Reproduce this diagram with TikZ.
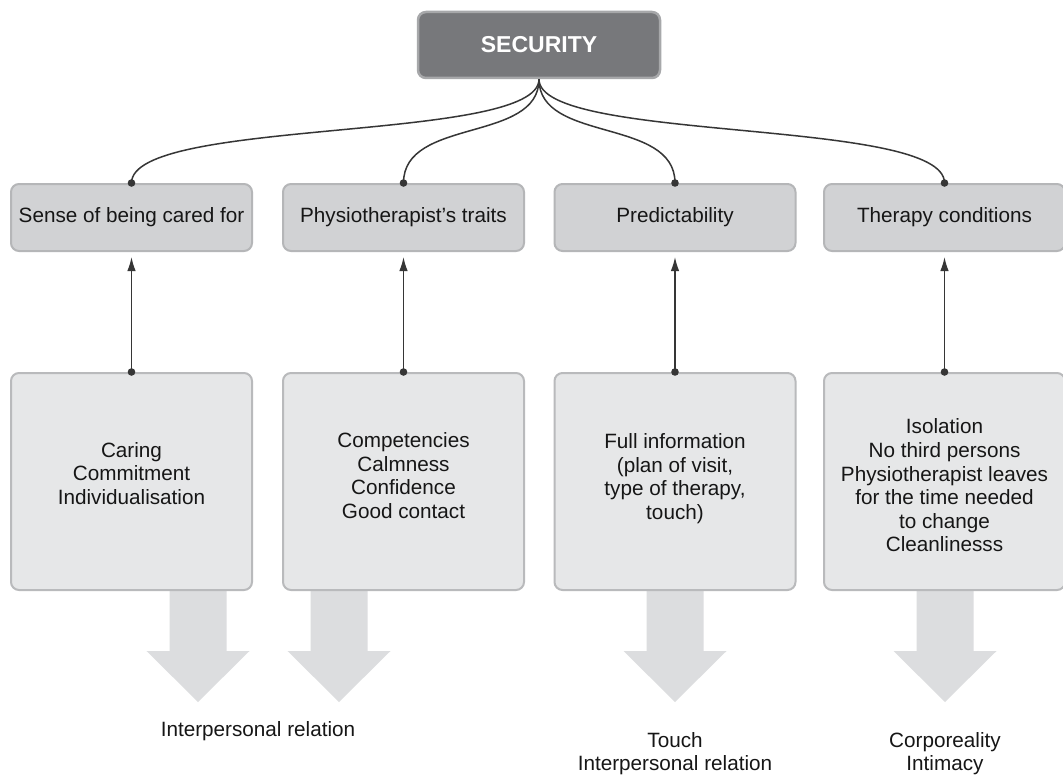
\documentclass[tikz,border=0pt]{standalone}
\usepackage{fontspec}
\setmainfont{Liberation Sans}
\usetikzlibrary{arrows.meta}

\definecolor{secfill}{HTML}{77787B}
\definecolor{secedge}{HTML}{A7A8AA}
\definecolor{catfill}{HTML}{D1D2D4}
\definecolor{catedge}{HTML}{B5B6B8}
\definecolor{itemfill}{HTML}{E6E7E8}
\definecolor{itemedge}{HTML}{B9BABC}
\definecolor{flowfill}{HTML}{DCDDDF}
\definecolor{linkc}{HTML}{363636}
\definecolor{ink}{HTML}{161616}

\tikzset{
  txt/.style={font=\fontsize{20.7}{23.6}\selectfont, text=ink, align=center},
  secbox/.style={draw=secedge, fill=secfill, line width=2.5pt, rounded corners=8pt,
    minimum width=242pt, minimum height=66pt, text=white,
    font=\bfseries\fontsize{23}{27}\selectfont},
  catbox/.style={txt, draw=catedge, fill=catfill, line width=2pt, rounded corners=8pt,
    minimum width=241pt, minimum height=67pt, inner sep=0pt},
  itembox/.style={draw=itemedge, fill=itemfill, line width=2pt, rounded corners=8pt,
    minimum width=241pt, minimum height=217pt, inner sep=0pt},
  itemtext/.style={txt, inner sep=0pt},
  link/.style={draw=linkc, line width=1.5pt},
  uparrow/.style={link, -{Latex[length=14pt,width=8.5pt]}, shorten >=5pt},
  dotmark/.style={fill=linkc},
  flow/.style={fill=flowfill},
  result/.style={txt, inner sep=0pt}
}

% block arrow pointing down: #1 = centre x, from y=588 to tip at y=702
\newcommand{\flowarrow}[1]{%
  \fill[flow] (#1-28.5,588) -- (#1-28.5,651) -- (#1-51.5,651) -- (#1,702)
    -- (#1+51.5,651) -- (#1+28.5,651) -- (#1+28.5,588) -- cycle;}

\begin{document}
\begin{tikzpicture}[x=1pt,y=-1pt]
  \clip (0,0) rectangle (1063,776);
  \fill[white] (0,0) rectangle (1063,776);

  % broad arrows towards the outcomes
  \flowarrow{198}
  \flowarrow{339}
  \flowarrow{675}
  \flowarrow{945}

  % top concept
  \node[secbox] (sec) at (539,45) {SECURITY};

  % categories
  \node[catbox] (c1) at (131.5,217.5) {Sense of being cared for};
  \node[catbox] (c2) at (403.5,217.5) {Physiotherapist’s traits};
  \node[catbox] (c3) at (675,217.5) {Predictability};
  \node[catbox] (c4) at (944.5,217.5) {Therapy conditions};

  % components
  \node[itembox] (d1) at (131.5,481.5) {};
  \node[itembox] (d2) at (403.5,481.5) {};
  \node[itembox] (d3) at (675,481.5) {};
  \node[itembox] (d4) at (944.5,481.5) {};
  \node[itemtext] (t1) at (131.5,473.5) {Caring\\Commitment\\Individualisation};
  \node[itemtext] (t2) at (403.5,475.5) {Competencies\\Calmness\\Confidence\\Good contact};
  \node[itemtext] (t3) at (675,478.5) {Full information\\(plan of visit,\\type of therapy,\\touch)};
  \node[itemtext] (t4) at (944.5,485.5) {Isolation\\No third persons\\Physiotherapist leaves\\for the time needed\\to change\\Cleanlinesss};

  % outcomes
  \node[result, anchor=base] (r1) at (258,736) {Interpersonal relation};
  \node[result, anchor=north] (r3) at (675,732) {Touch\\Interpersonal relation};
  \node[result, anchor=north] (r4) at (945,732) {Corporeality\\Intimacy};

  % branches from the top concept
  \foreach \c in {c1,c2,c3,c4}{
    \draw[link] (sec.south) .. controls +(0,64) and +(0,-66) .. (\c.north);
    \fill[dotmark] (\c.north) circle (3.8pt);
  }

  % links from components to categories
  \foreach \d/\c in {d1/c1,d2/c2,d3/c3,d4/c4}{
    \draw[uparrow] (\d.north) -- (\c.south);
    \fill[dotmark] (\d.north) circle (3.8pt);
  }
\end{tikzpicture}
\end{document}
